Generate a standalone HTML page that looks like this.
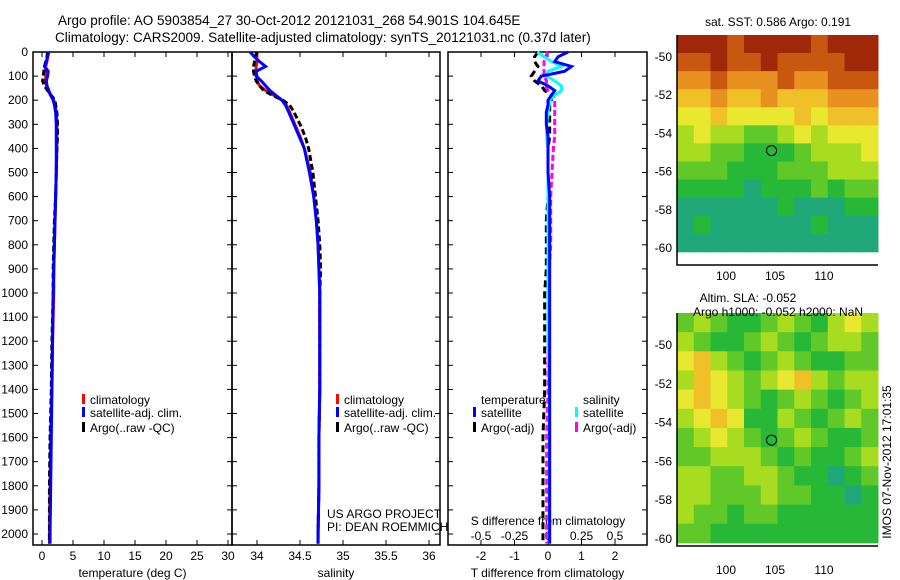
<!DOCTYPE html>
<html><head><meta charset="utf-8"><style>
body{margin:0;background:#fff;}
svg{display:block;font-family:"Liberation Sans",sans-serif;}
</style></head><body>
<svg id="c" width="900" height="580">
<text x="58" y="25" font-size="13.5">Argo profile: AO 5903854_27 30-Oct-2012 20121031_268 54.901S 104.645E</text>
<text x="55" y="42" font-size="13.5">Climatology: CARS2009. Satellite-adjusted climatology: synTS_20121031.nc (0.37d later)</text>
<g id="g"></g>
</svg>
<script>
const depths=[0,20,40,60,80,100,120,140,160,180,200,220,250,300,350,400,500,600,700,800,900,1000,1200,1400,1600,1800,2000,2040];
const tClim=[1.0,0.9,0.8,0.6,0.7,0.6,0.6,0.7,1.0,1.4,1.9,2.1,2.3,2.4,2.4,2.4,2.3,2.2,2.1,2.0,1.9,1.9,1.7,1.6,1.4,1.3,1.2,1.2];
const tSat=[1.1,0.9,0.7,0.4,1.0,0.9,0.7,0.8,1.1,1.4,1.8,2.0,2.2,2.3,2.3,2.3,2.3,2.2,2.1,2.0,1.9,1.8,1.7,1.6,1.5,1.4,1.3,1.3];
const tArgo=[0.9,0.8,0.6,0.4,0.3,0.2,0.1,0.4,0.9,1.5,2.1,2.2,2.4,2.5,2.5,2.4,2.3,2.2,2.0,1.9,1.8,1.8,1.6,1.5,1.3,1.2,1.2,1.2];
const sClim=[34.0,34.0,34.0,33.99,33.99,34.0,34.0,34.03,34.1,34.2,34.29,34.34,34.38,34.44,34.5,34.55,34.62,34.66,34.69,34.71,34.72,34.73,34.73,34.73,34.72,34.72,34.71,34.71];
const sSat=[33.92,33.97,34.03,34.1,33.99,33.99,34.05,34.1,34.15,34.22,34.29,34.33,34.37,34.43,34.49,34.55,34.61,34.66,34.69,34.71,34.72,34.73,34.73,34.73,34.72,34.72,34.71,34.71];
const sArgo=[34.0,33.98,33.97,33.96,33.96,33.97,33.99,34.03,34.08,34.18,34.3,34.38,34.43,34.5,34.56,34.6,34.65,34.68,34.71,34.73,34.74,34.73,34.73,34.73,34.72,34.72,34.71,34.71];
const dtSat=[0.6,0.3,0.2,0.7,0.5,-0.2,-0.3,0.0,0.2,0.1,0.0,0.0,-0.05,-0.05,0.0,0.0,0.0,0.05,0.05,0.05,0.05,0.05,0.05,0.05,0.05,0.05,0.05,0.05];
const dtArgo=[-0.3,-0.4,-0.4,-0.3,-0.4,-0.5,-0.4,-0.2,-0.1,0.1,0.1,0.05,0.05,0.05,0.05,0.0,0.0,0.0,-0.05,-0.05,-0.05,-0.1,-0.1,-0.1,-0.15,-0.15,-0.15,-0.15];
const dsSat=[-0.08,-0.03,0.03,0.1,0.0,-0.01,0.05,0.1,0.1,0.05,0.01,0.01,0.0,-0.01,-0.01,0.0,0.0,0.0,0.0,0.0,0.0,0.0,0.0,0.01,0.01,0.01,0.01,0.01];
const dsArgo=[0.0,-0.02,-0.03,-0.03,-0.03,-0.03,-0.01,-0.02,0.0,0.04,0.05,0.05,0.05,0.05,0.05,0.04,0.03,0.02,0.02,0.02,0.01,0.0,0.0,0.0,-0.01,-0.01,-0.01,-0.01];
const depthTicks=[0,100,200,300,400,500,600,700,800,900,1000,1100,1200,1300,1400,1500,1600,1700,1800,1900,2000];
const tTicks=[0,5,10,15,20,25,30];
const sTicks=[34,34.5,35,35.5,36];
const dtTicks=[-2,-1,0,1,2];
const dsTicks=["-0.5","-0.25","0","0.25","0.5"];
const lonTicks=[100,105,110];
const latTicks=[-50,-52,-54,-56,-58,-60];
const sstGrid=[
[8,8,8,7,8,8,8,8,7,8,8,8],[7,7,8,7,7,8,7,7,7,7,8,8],[6,6,7,6,6,6,7,6,6,7,7,7],[5,5,6,5,5,6,5,5,5,6,6,6],
[4,4,5,4,4,4,4,5,4,5,5,5],[3,4,3,3,2,2,3,4,3,4,4,4],[3,3,2,2,1,1,1,2,3,3,3,4],[2,2,2,1,1,1,2,2,2,3,3,3],
[1,1,1,1,0,1,1,1,2,1,2,2],[0,0,0,0,0,0,1,0,0,0,1,1],[0,1,0,0,0,0,0,0,1,0,0,0],[0,0,0,0,0,0,0,0,0,0,0,0]];
const slaGrid=[
[2,3,2,1,1,2,3,2,1,3,4,3],[3,2,1,1,2,3,2,1,2,3,3,2],[4,5,3,2,1,2,3,2,1,1,2,2],[3,5,4,3,2,3,4,5,3,2,3,3],
[4,5,4,3,2,1,2,3,2,1,2,3],[3,4,5,4,1,1,3,2,1,2,3,2],[2,3,4,3,2,1,2,3,2,1,1,2],[2,2,3,3,3,2,1,2,1,1,2,3],
[3,3,2,2,3,3,2,1,1,0,1,2],[3,3,2,2,2,3,2,2,1,1,0,1],[3,2,2,1,2,2,1,1,1,1,1,1],[2,2,1,1,1,1,1,1,1,1,1,1]];
const palette=["#20a878","#28b838","#60c828","#a8dc20","#e8e830","#f0c028","#e89020","#c85810","#a02808"];

const NS="http://www.w3.org/2000/svg";const G=document.getElementById('g');
function el(t,a,txt){const e=document.createElementNS(NS,t);for(const k in a)e.setAttribute(k,a[k]);if(txt!==undefined)e.textContent=txt;G.appendChild(e);return e;}
const yD=d=>52+d*0.241;
function panel(x0,x1,name,xs,ticks,tickLabels,xlabel){
  const r=el('rect',{x:x0,y:52,width:x1-x0,height:493,fill:'none',stroke:'#000','stroke-width':1.5});
  
  
  depthTicks.forEach(d=>{const t=el('line',{x1:x0,x2:x0+5,y1:yD(d),y2:yD(d),stroke:'#000'});
    
    
    const t2=el('line',{x1:x1-5,x2:x1,y1:yD(d),y2:yD(d),stroke:'#000'});
    
    });
  ticks.forEach((v,i)=>{const t=el('line',{x1:xs(v),x2:xs(v),y1:545,y2:540,stroke:'#000'});
    
    
    const t2=el('line',{x1:xs(v),x2:xs(v),y1:52,y2:57,stroke:'#000'});
    
    
    const l=el('text',{x:xs(v),y:560,'font-size':12,'text-anchor':'middle'},tickLabels[i]);
    
    });
  const xl=el('text',{x:(x0+x1)/2,y:577,'font-size':12,'text-anchor':'middle'},xlabel);
  
  
}
function line(xs,vals,color,dash,w,name){
  const p=el('polyline',{points:vals.map((v,i)=>xs(v)+','+yD(depths[i])).join(' '),fill:'none',stroke:color,'stroke-width':w,'stroke-dasharray':dash||'none'});
  
  
}
function legend(x,y,color,txt,name){
  const b=el('rect',{x:x,y:y-10,width:3,height:10,fill:color});
  
  
  const t=el('text',{x:x+8,y:y,'font-size':12},txt);
  
  
}
depthTicks.forEach(d=>{const t=el('text',{x:28,y:yD(d)+4,'font-size':12,'text-anchor':'end'},String(d));
  
  });
const xT=v=>42+v*6.2;
panel(33,232,'temperature-panel',xT,tTicks,tTicks.map(String),'temperature (deg C)');
line(xT,tClim,'#f00',null,3,'temperature-climatology-line');
line(xT,tArgo,'#000','6,3',3,'temperature-argo-line');
line(xT,tSat,'#00f',null,3,'temperature-satellite-line');
legend(82,404,'#f00','climatology','legend-climatology');
legend(82,417,'#00f','satellite-adj. clim.','legend-satellite-adj');
legend(82,432,'#000','Argo(..raw -QC)','legend-argo');
const xS=v=>257+(v-34)*86;
panel(232,440,'salinity-panel',xS,sTicks,sTicks.map(String),'salinity');
line(xS,sClim,'#f00',null,3,'salinity-climatology-line');
line(xS,sArgo,'#000','6,3',3,'salinity-argo-line');
line(xS,sSat,'#00f',null,3,'salinity-satellite-line');
legend(336,404,'#f00','climatology','legend-climatology-2');
legend(336,417,'#00f','satellite-adj. clim.','legend-satellite-adj-2');
legend(336,432,'#000','Argo(..raw -QC)','legend-argo-2');
[['US ARGO PROJECT',518],['PI: DEAN ROEMMICH',531]].forEach(a=>{const t=el('text',{x:327,y:a[1],'font-size':12},a[0]);
  
  });
const xDT=v=>548+v*33.5;
const xDS=v=>548+v*134;
panel(448,647,'difference-panel',xDT,dtTicks,dtTicks.map(String),'T difference from climatology');
dsTicks.forEach(s=>{const t=el('text',{x:xDS(parseFloat(s)),y:540,'font-size':12,'text-anchor':'middle'},s);
  
  });
const st=el('text',{x:548,y:525,'font-size':12,'text-anchor':'middle'},'S difference from climatology');


line(xDT,dtArgo,'#000','7,4',3,'t-diff-argo-line');
line(xDS,dsArgo,'#f0f','6,3',3,'s-diff-argo-line');
line(xDS,dsSat,'#0ff',null,3,'s-diff-satellite-line');
line(xDT,dtSat,'#00f',null,3,'t-diff-satellite-line');
[['temperature',481,404],['salinity',583,404]].forEach(a=>{const t=el('text',{x:a[1],y:a[2],'font-size':12},a[0]);
  
  });
legend(473,417,'#00f','satellite','legend-t-satellite');
legend(473,432,'#000','Argo(-adj)','legend-t-argo');
legend(575,417,'#0ff','satellite','legend-s-satellite');
legend(575,432,'#f0f','Argo(-adj)','legend-s-argo');
function map(top,bottom,lat50,latScale,grid,name,lonLabY){
  const x0=677,x1=878;const xL=v=>726+(v-100)*9.8;const yL=v=>lat50+(-50-v)*latScale;
  const rows=grid.length,cols=grid[0].length;const cw=(x1-x0)/cols;const yTop=top,yBot=yL(-60.2);const ch=(yBot-yTop)/rows;
  grid.forEach((row,r)=>row.forEach((v,c)=>{const q=el('rect',{x:x0+c*cw,y:yTop+r*ch,width:cw+0.5,height:ch+0.5,fill:palette[v]});
    
    }));
  const f=el('path',{d:`M${x0},${top}V${bottom}H${x1}`,fill:'none',stroke:'#000','stroke-width':1.5});
  
  
  latTicks.forEach(v=>{const t=el('text',{x:672,y:yL(v)+4,'font-size':12,'text-anchor':'end'},String(v));
    
    });
  lonTicks.forEach(v=>{const t=el('text',{x:xL(v),y:lonLabY,'font-size':12,'text-anchor':'middle'},String(v));
    
    });
  const c=el('circle',{cx:xL(104.645),cy:yL(-54.901),r:5,fill:'none',stroke:'#000'});
  
  
}
map(35,265,57,19.1,sstGrid,'sst-map',280);
map(313,546,345,19.4,slaGrid,'sla-map',574);
[['sat. SST: 0.586 Argo: 0.191',778,26],['Altim. SLA: -0.052',748,302],['Argo h1000: -0.052 h2000: NaN',778,316]].forEach(a=>{const t=el('text',{x:a[1],y:a[2],'font-size':12,'text-anchor':'middle'},a[0]);
  
  });
const v=el('text',{x:0,y:0,'font-size':12,'text-anchor':'middle',transform:'translate(891,462) rotate(-90)'},'IMOS 07-Nov-2012 17:01:35');


</script>
</body></html>
